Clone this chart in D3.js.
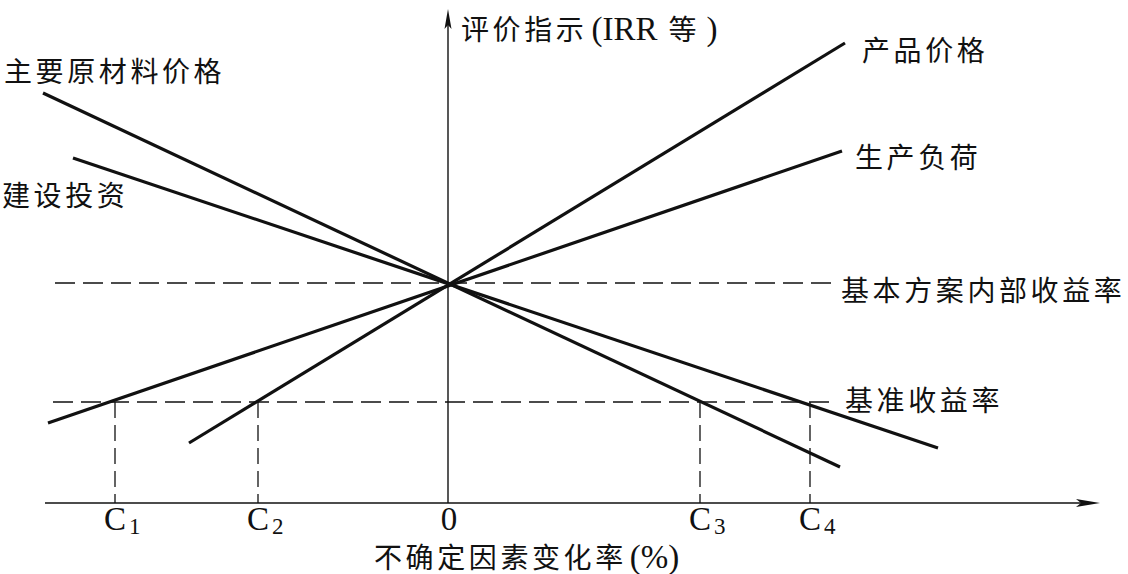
<!DOCTYPE html>
<html><head><meta charset="utf-8">
<script src="https://cdn.jsdelivr.net/npm/d3@7/dist/d3.min.js"></script>
<style>
html,body{margin:0;padding:0;background:#fff;}
svg text{font-family:"Liberation Serif","Noto Sans CJK SC",serif;fill:#111;}
</style></head>
<body><svg id="chart" width="1128" height="574"></svg>
<script>
// ---- data ----
const factors = ["产品价格", "生产负荷", "主要原材料价格", "建设投资"];
const startX = [-12.95, -20.0, -20.25, -18.75];
const startY = [3.0, 4.0, 20.5, 17.25];
const endX = [19.85, 19.7, 19.6, 24.5];
const endY = [23.0, 17.6, 1.8, 2.75];
const baseIRR = 11;
const benchmarkIRR = 5.05;
const cLabels = ["C", "C", "C", "C"];
const cSubs = ["1", "2", "3", "4"];
const cValues = [-16.65, -9.5, 12.6, 18.1];
const xAxisTitleCJK = "不确定因素变化率";
const xAxisTitleLatin = "(%)";
const yAxisTitleParts = ["评价指示", "(IRR", "等", ")"];
const baseLabel = "基本方案内部收益率";
const benchLabel = "基准收益率";

// ---- scales ----
const x = d3.scaleLinear().domain([-20, 32.6]).range([48, 1100]);
const y = d3.scaleLinear().domain([0, 24.6]).range([503, 11]);

const svg = d3.select("#chart");
const ink = "#111";

// axes
const xMin = -20.15, xMax = 32.6, yMax = 24.7;
svg.append("line").attr("x1", x(xMin)).attr("x2", x(xMax) - 10)
  .attr("y1", y(0)).attr("y2", y(0)).attr("stroke", ink).attr("stroke-width", 1.6);
svg.append("path").attr("d", `M${x(xMax)},${y(0)} L${x(xMax)-24},${y(0)-4} L${x(xMax)-19},${y(0)} L${x(xMax)-24},${y(0)+4} Z`).attr("fill", ink);
svg.append("line").attr("x1", x(0)).attr("x2", x(0))
  .attr("y1", y(0)).attr("y2", y(yMax) + 10).attr("stroke", ink).attr("stroke-width", 1.4);
svg.append("path").attr("d", `M${x(0)},${y(yMax)} L${x(0)-3.5},${y(yMax)+20} L${x(0)},${y(yMax)+16} L${x(0)+3.5},${y(yMax)+20} Z`).attr("fill", ink);

// dashed reference lines
const dash = "20,8";
svg.append("line").attr("x1", x(-19.65)).attr("x2", x(19.4))
  .attr("y1", y(baseIRR)).attr("y2", y(baseIRR))
  .attr("stroke", ink).attr("stroke-width", 1.3).attr("stroke-dasharray", dash);
svg.append("line").attr("x1", x(-19.75)).attr("x2", x(19.45))
  .attr("y1", y(benchmarkIRR)).attr("y2", y(benchmarkIRR))
  .attr("stroke", ink).attr("stroke-width", 1.3).attr("stroke-dasharray", dash);
cValues.forEach(v => {
  svg.append("line").attr("x1", x(v)).attr("x2", x(v))
    .attr("y1", y(benchmarkIRR)).attr("y2", y(0))
    .attr("stroke", ink).attr("stroke-width", 1.3).attr("stroke-dasharray", "16,7");
});

// factor lines
const line = d3.line().x(d => x(d[0])).y(d => y(d[1]));
factors.forEach((f, i) => {
  svg.append("path").attr("d", line([[startX[i], startY[i]], [endX[i], endY[i]]]))
    .attr("stroke", ink).attr("stroke-width", 3.2).attr("fill", "none").attr("stroke-linecap", "butt");
});

// labels
const cjk = (t, px, py) => svg.append("text").attr("x", px).attr("y", py)
  .attr("font-size", 28).attr("letter-spacing", 3.6).text(t);
cjk(factors[0], 862, 61);
cjk(factors[1], 855, 168);
cjk(factors[2], 4, 82);
cjk(factors[3], 2, 206);
cjk(baseLabel, 841, 301);
cjk(benchLabel, 845, 411);

// y-axis title
const yt = svg.append("text").attr("x", 461).attr("y", 40);
yt.append("tspan").attr("font-size", 28).attr("letter-spacing", 3.6).text(yAxisTitleParts[0]);
yt.append("tspan").attr("font-size", 33).attr("dx", 4).text(yAxisTitleParts[1]);
yt.append("tspan").attr("font-size", 28).attr("dx", 11).text(yAxisTitleParts[2]);
yt.append("tspan").attr("font-size", 33).attr("dx", 10).text(yAxisTitleParts[3]);

// x-axis title
const xt = svg.append("text").attr("x", 374).attr("y", 568);
xt.append("tspan").attr("font-size", 28).attr("letter-spacing", 3.6).text(xAxisTitleCJK);
xt.append("tspan").attr("font-size", 33).attr("dx", 3).text(xAxisTitleLatin);

// tick labels
cValues.forEach((v, i) => {
  const t = svg.append("text").attr("x", x(v) - 11).attr("y", 530).attr("font-size", 33);
  t.append("tspan").text(cLabels[i]);
  t.append("tspan").attr("font-size", 23).attr("dx", 3).attr("dy", 4).text(cSubs[i]);
});
svg.append("text").attr("x", x(0) + 1).attr("y", 530).attr("font-size", 33)
  .attr("text-anchor", "middle").text("0");
</script></body></html>
